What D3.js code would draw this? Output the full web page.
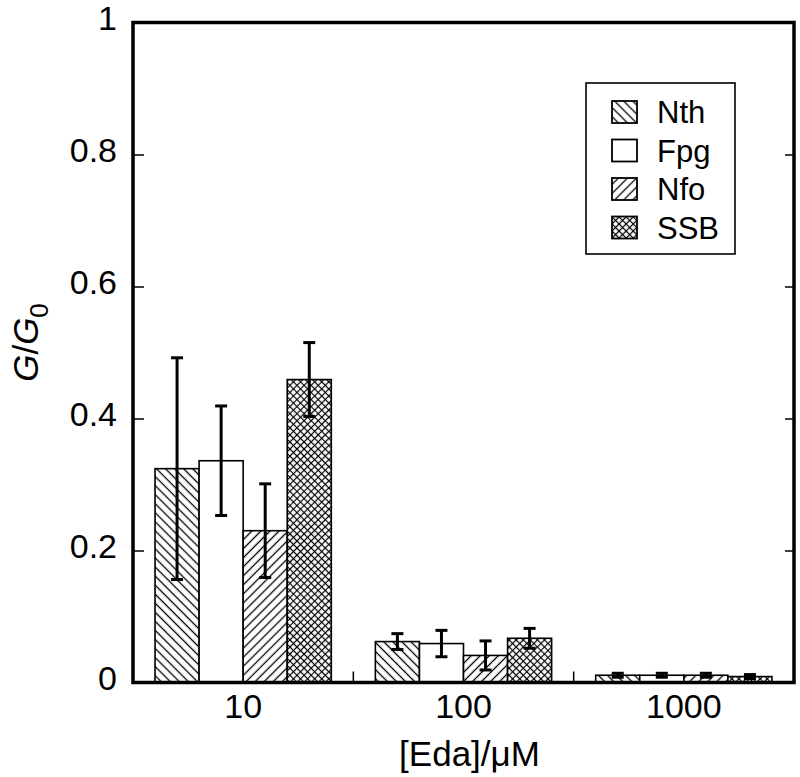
<!DOCTYPE html>
<html><head><meta charset="utf-8">
<script src="https://cdn.jsdelivr.net/npm/d3@7"></script>
<style>body{margin:0;background:#fff}svg{display:block;font-family:"Liberation Sans",Arial,sans-serif}</style>
</head><body>
<script>
const categories = ["10", "100", "1000"];
const series = ["Nth", "Fpg", "Nfo", "SSB"];
const values = {
  Nth: [0.324, 0.062, 0.011],
  Fpg: [0.336, 0.059, 0.011],
  Nfo: [0.230, 0.041, 0.011],
  SSB: [0.459, 0.067, 0.009]
};
const errors = {
  Nth: [0.168, 0.012, 0.003],
  Fpg: [0.083, 0.020, 0.003],
  Nfo: [0.071, 0.022, 0.003],
  SSB: [0.056, 0.015, 0.003]
};
const yTicks = [0, 0.2, 0.4, 0.6, 0.8, 1];
const yTickLabels = ["0", "0.2", "0.4", "0.6", "0.8", "1"];

const W = 800, H = 777;
const m = {left: 133, right: 6, top: 22.5, bottom: 95};
const svg = d3.select("body").append("svg").attr("width", W).attr("height", H);
const defs = svg.append("defs");

function hatch(id, angle, spacing) {
  const p = defs.append("pattern").attr("id", id).attr("patternUnits", "userSpaceOnUse")
    .attr("width", spacing).attr("height", spacing).attr("patternTransform", `rotate(${angle})`);
  p.append("rect").attr("width", spacing).attr("height", spacing).attr("fill", "#fff");
  p.append("line").attr("x1", spacing/2).attr("x2", spacing/2).attr("y1", -1).attr("y2", spacing+1)
    .attr("stroke", "#000").attr("stroke-width", 1.3);
}
function cross(id, spacing) {
  const p = defs.append("pattern").attr("id", id).attr("patternUnits", "userSpaceOnUse")
    .attr("width", spacing).attr("height", spacing).attr("patternTransform", "rotate(45)");
  p.append("rect").attr("width", spacing).attr("height", spacing).attr("fill", "#fff");
  p.append("line").attr("x1", spacing/2).attr("x2", spacing/2).attr("y1", -1).attr("y2", spacing+1)
    .attr("stroke", "#000").attr("stroke-width", 1.2);
  p.append("line").attr("y1", spacing/2).attr("y2", spacing/2).attr("x1", -1).attr("x2", spacing+1)
    .attr("stroke", "#000").attr("stroke-width", 1.2);
}
hatch("pNth", -45, 6.4);
hatch("pNfo", 45, 6.4);
cross("pSSB", 5);
const fills = {Nth: "url(#pNth)", Fpg: "#fff", Nfo: "url(#pNfo)", SSB: "url(#pSSB)"};

const x = d3.scaleBand().domain(categories).range([m.left, W - m.right]).paddingInner(0.2).paddingOuter(0.1);
const xOuter = d3.scaleBand().domain(categories).range([m.left, W - m.right]);
const xs = d3.scaleBand().domain(series).range([0, x.bandwidth()]);
const y = d3.scaleLinear().domain([0, 1]).range([H - m.bottom + 0.5, m.top]);

const bars = [];
categories.forEach((c, i) => series.forEach(s => bars.push({c, s, v: values[s][i], e: errors[s][i]})));

const g = svg.append("g");
g.selectAll("rect.bar").data(bars).join("rect").attr("class", "bar")
  .attr("x", d => x(d.c) + xs(d.s)).attr("width", xs.bandwidth())
  .attr("y", d => y(d.v)).attr("height", d => y(0) - y(d.v))
  .attr("fill", d => fills[d.s]).attr("stroke", "#000").attr("stroke-width", 1.6);

const eb = g.selectAll("g.err").data(bars).join("g").attr("class", "err")
  .attr("transform", d => `translate(${x(d.c) + xs(d.s) + xs.bandwidth()/2},0)`);
eb.append("line").attr("y1", d => y(d.v + d.e)).attr("y2", d => y(d.v - d.e))
  .attr("stroke", "#000").attr("stroke-width", 3);
eb.append("line").attr("x1", -6).attr("x2", 6).attr("y1", d => y(d.v + d.e)).attr("y2", d => y(d.v + d.e))
  .attr("stroke", "#000").attr("stroke-width", 3);
eb.append("line").attr("x1", -6).attr("x2", 6).attr("y1", d => y(d.v - d.e)).attr("y2", d => y(d.v - d.e))
  .attr("stroke", "#000").attr("stroke-width", 3);

// axes
const yAxisL = d3.axisLeft(y).tickValues(yTicks).tickSize(-11).tickPadding(16).tickFormat((d, i) => yTickLabels[i]);
const gl = svg.append("g").attr("transform", `translate(${m.left},0)`).call(yAxisL);
gl.select(".domain").remove();
gl.selectAll(".tick line").attr("stroke-width", 1.5);
gl.selectAll(".tick text").attr("font-size", 34).attr("fill", "#000").attr("dy", "0.2em");

const yAxisR = d3.axisRight(y).tickValues(yTicks).tickSize(-9).tickFormat("");
const gr = svg.append("g").attr("transform", `translate(${W - m.right},0)`).call(yAxisR);
gr.select(".domain").remove();
gr.selectAll(".tick line").attr("stroke-width", 1.5);

// x ticks at group boundaries
const bounds = categories.slice(1).map(c => xOuter(c));
svg.append("g").selectAll("line").data(bounds).join("line")
  .attr("x1", d => d).attr("x2", d => d).attr("y1", y(0)).attr("y2", y(0) - 11)
  .attr("stroke", "#000").attr("stroke-width", 1.5);

const xAxis = d3.axisBottom(x).tickSize(0).tickPadding(0);
const gb = svg.append("g").attr("transform", `translate(0,${y(0)})`).call(xAxis);
gb.select(".domain").remove();
gb.selectAll(".tick text").attr("font-size", 34).attr("fill", "#000").attr("dy", null).attr("y", 35);

// frame
svg.append("rect").attr("x", m.left).attr("y", m.top).attr("width", W - m.right - m.left).attr("height", y(0) - m.top)
  .attr("fill", "none").attr("stroke", "#000").attr("stroke-width", 3.5);

// axis labels
svg.append("text").attr("x", (m.left + W - m.right)/2 + 6).attr("y", 766).attr("text-anchor", "middle")
  .attr("font-size", 35).text("[Eda]/\u03bcM");
const yl = svg.append("text").attr("transform", `translate(38,${(m.top + y(0))/2 - 10}) rotate(-90)`)
  .attr("text-anchor", "middle").attr("font-size", 35);
yl.append("tspan").attr("font-style", "italic").text("G");
yl.append("tspan").text("/");
yl.append("tspan").attr("font-style", "italic").text("G");
yl.append("tspan").attr("font-size", 26).attr("dy", 10).text("0");

// legend
const lg = svg.append("g");
lg.append("rect").attr("x", 586).attr("y", 83).attr("width", 149).attr("height", 171)
  .attr("fill", "#fff").attr("stroke", "#000").attr("stroke-width", 1.6);
const li = lg.selectAll("g.li").data(series).join("g").attr("class", "li")
  .attr("transform", (d, i) => `translate(612,${112 + i * 38.5})`);
li.append("rect").attr("x", 0).attr("y", -11).attr("width", 25).attr("height", 22)
  .attr("fill", d => fills[d]).attr("stroke", "#000").attr("stroke-width", 1.8);
li.append("text").attr("x", 45).attr("y", 0).attr("dy", "0.36em").attr("font-size", 31).text(d => d);
</script>
</body></html>
